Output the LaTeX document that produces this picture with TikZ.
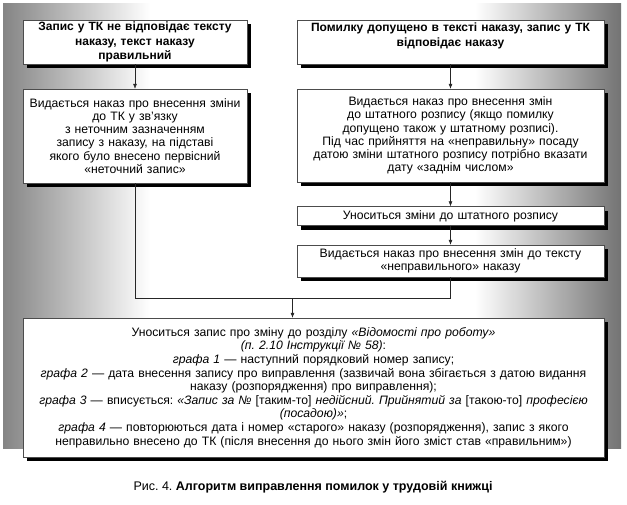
\documentclass[tikz,border=0pt]{standalone}
\usepackage{fontspec}
\setmainfont{Liberation Sans}
\usetikzlibrary{shadows,arrows.meta}
\frenchspacing
\begin{document}
\begin{tikzpicture}[x=1pt,y=-1pt,
  box/.style={draw=black!70,line width=0.5pt,fill=white,align=center,inner sep=2pt,
    drop shadow={shadow xshift=4pt,shadow yshift=-4pt,fill=black,opacity=1},
    font=\fontsize{12.2}{13.2}\selectfont},
  headbox/.style={box,font=\fontsize{12}{14.5}\selectfont\bfseries},
  link/.style={black!85,line width=0.5pt},
  arr/.style={-{Latex[length=5pt,width=4pt]}}]
\useasboundingbox (0,0) rectangle (627,504);
\shade[left color=black!48,right color=white] (3,3) rectangle (150,448);
\shade[left color=white,right color=black!55] (475,3) rectangle (621,448);
\node[headbox,text width=220pt,minimum height=44pt] (a) at (135,42)
  {Запис у ТК не відповідає тексту\\наказу, текст наказу\\правильний};
\node[headbox,text width=303pt,minimum height=44pt] (b) at (450.5,42)
  {Помилку допущено в тексті наказу, запис у ТК\\відповідає наказу\\\mbox{}};
\node[box,text width=220pt,minimum height=94pt] (c) at (135,136)
  {Видається наказ про внесення зміни\\до ТК у зв'язку\\з неточним зазначенням\\запису з наказу, на підставі\\якого було внесено первісний\\«неточний запис»};
\node[box,text width=303pt,minimum height=93pt] (d) at (450.5,135.5)
  {Видається наказ про внесення змін\\до штатного розпису (якщо помилку\\допущено також у штатному розписі).\\Під час прийняття на «неправильну» посаду\\датою зміни штатного розпису потрібно вказати\\дату «заднім числом»};
\node[box,text width=303pt,minimum height=19pt] (e) at (450.5,216)
  {Уноситься зміни до штатного розпису};
\node[box,text width=303pt,minimum height=32pt] (f) at (450.5,261)
  {Видається наказ про внесення змін до тексту\\«неправильного» наказу};
\node[box,text width=577pt,minimum height=139pt,font=\fontsize{12.2}{13.6}\selectfont] (g) at (313.5,387.5)
  {Уноситься запис про зміну до розділу \textit{«Відомості про роботу»}\\
   \textit{(п. 2.10 Інструкції № 58)}:\\
   \textit{графа 1} — наступний порядковий номер запису;\\
   \textit{графа 2} — дата внесення запису про виправлення (зазвичай вона збігається з датою видання\\
   наказу (розпорядження) про виправлення);\\
   \textit{графа 3} — вписується: \textit{«Запис за №} [таким-то] \textit{недійсний. Прийнятий за} [такою-то] \textit{професією}\\
   \textit{(посадою)»};\\
   \textit{графа 4} — повторюються дата і номер «старого» наказу (розпорядження), запис з якого\\
   неправильно внесено до ТК (після внесення до нього змін його зміст став «правильним»)};
\coordinate (cturn) at (135,298);
\coordinate (fturn) at (450.5,298);
\coordinate (join) at (292.5,298);
\draw[link,arr] (a) -- (c);
\draw[link,arr] (b) -- (d);
\draw[link,arr] (d) -- (e);
\draw[link,arr] (e) -- (f);
\draw[link] (c) -- (cturn) -- (fturn) -- (f);
\draw[link,arr] (join) -- (join |- g.north);
\node[font=\fontsize{12.5}{14}\selectfont] (caption) at (313,487)
  {Рис. 4. \textbf{Алгоритм виправлення помилок у трудовій книжці}};
\end{tikzpicture}
\end{document}
